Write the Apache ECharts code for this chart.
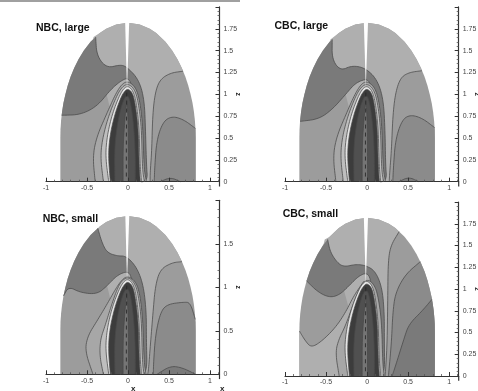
<!DOCTYPE html>
<html>
<head>
<meta charset="utf-8">
<style>
html,body{margin:0;padding:0;background:#fff;overflow:hidden}
#chart{width:478px;height:391px;filter:blur(0.5px)}
</style>
<script src="https://cdn.jsdelivr.net/npm/echarts@6/dist/echarts.min.js"></script>
</head>
<body>
<div id="chart"></div>
<script>
// ---------- values: x, z in axis units ----------
const panelTitles = ['NBC, large', 'CBC, large', 'NBC, small', 'CBC, small'];
const xTicksMajor = 0.5;
const zTickSteps = [0.25, 0.25, 0.5, 0.25];

// half-width of the dome at each height [z, |x|]
const domeProfile = [[0,.825],[.5,.825],[.6,.823],[.7,.816],[.8,.804],[.9,.787],[1,.763],[1.1,.735],[1.2,.70],[1.3,.656],[1.4,.603],[1.5,.538],[1.6,.456],[1.7,.344],[1.75,.265],[1.8,.143],[1.82,0]];

// contours shared by the inner wake
const whiteRing = [[-.235,0],[-.275,.29],[-.255,.52],[-.195,.766],[-.108,.98],[-.05,1.07],[0,1.095],[.055,1.05],[.095,.94],[.136,.63],[.146,.2],[.165,0]];
const coreEdge = [[-.215,0],[-.24,.29],[-.222,.52],[-.163,.766],[-.085,.97],[-.033,1.045],[0,1.06],[.045,1.03],[.08,.94],[.125,.63],[.135,.2],[.15,0]];
const coreStripe = [[-.16,0],[-.165,.4],[-.12,.72],[-.06,.93],[-.01,1.0],[.03,.92],[.07,.65],[.09,.3],[.09,0]];
const coreCentre = [[-.06,0],[-.06,.42],[-.035,.75],[-.015,.93],[.0,.75],[.005,.42],[.005,0]];
const coreDashes = [[-.015,1.02],[-.02,.5],[-.02,.03]];

// NBC, large
const p1Right = [[.69,1.264],[.52,1.245],[.39,1.17],[.33,1.015],[.30,.75],[.29,.36],[.27,.1],[.27,0]];
const p1Lower = [[.82,.61],[.68,.71],[.54,.75],[.43,.69],[.35,.48],[.325,.15],[.32,0]];
const p1Bump = [[.39,0],[.52,.05],[.64,0]];
const p1Dark = [[-.793,.76],[-.58,.766],[-.378,.862],[-.215,1.05],[-.093,1.15],[0,1.19],[.05,1.1],[.1,.6],[.1,0],[.24,0],[.225,.2],[.215,.55],[.2,.94],[.13,1.17],[-.01,1.31],[-.09,1.34],[-.26,1.30],[-.38,1.44],[-.42,1.655]];
const p1Band = [[-.40,0],[-.43,.29],[-.38,.52],[-.256,.785],[-.154,1],[-.073,1.12],[0,1.15],[.09,1.085],[.142,.94],[.182,.63],[.195,.15],[.225,0]];
const p1Light = [[-.30,0],[-.337,.29],[-.305,.52],[-.232,.766],[-.13,1],[-.065,1.09],[0,1.12],[.072,1.07],[.122,.94],[.165,.63],[.175,.15],[.20,0]];

// CBC, large
const p2Right = [[.683,1.27],[.51,1.25],[.407,1.19],[.345,1.015],[.313,.747],[.297,.364],[.275,.1],[.27,0]];
const p2Lower = [[.813,.62],[.67,.728],[.528,.766],[.427,.71],[.345,.48],[.32,.15],[.313,0]];
const p2Bump = [[.386,0],[.508,.054],[.63,0]];
const p2Dark = [[-.81,.69],[-.59,.716],[-.427,.824],[-.264,.996],[-.142,1.13],[0,1.18],[.05,1.1],[.1,.6],[.1,0],[.24,0],[.225,.2],[.22,.555],[.2,.94],[.122,1.17],[-.02,1.30],[-.183,1.33],[-.325,1.27],[-.427,1.40],[-.447,1.628]];
const p2Band = [[-.38,0],[-.415,.29],[-.37,.52],[-.25,.785],[-.15,1],[-.07,1.12],[0,1.15],[.09,1.085],[.142,.94],[.182,.63],[.195,.15],[.225,0]];
const p2Light = [[-.29,0],[-.325,.29],[-.30,.52],[-.23,.766],[-.13,1],[-.065,1.09],[0,1.12],[.072,1.07],[.122,.94],[.165,.63],[.175,.15],[.20,0]];

// NBC, small
const p3Right = [[.68,1.295],[.537,1.283],[.394,1.207],[.333,1.015],[.305,.709],[.272,.326],[.25,.05],[.24,0]];
const p3Lower = [[.82,.632],[.76,.824],[.68,.83],[.476,.805],[.394,.709],[.333,.44],[.31,.1],[.31,0]];
const p3Bump = [[.354,0],[.516,.096],[.66,.077],[.78,0]];
const p3Dark = [[-.793,.90],[-.724,1.008],[-.58,.939],[-.378,.92],[-.256,1.015],[-.134,1.138],[0,1.188],[.05,1.1],[.1,.6],[.1,0],[.235,0],[.224,.4],[.224,.709],[.19,1.015],[.11,1.226],[-.02,1.36],[-.134,1.36],[-.256,1.40],[-.317,1.513],[-.358,1.678]];
const p3Band = [[-.427,0],[-.524,.268],[-.492,.44],[-.378,.613],[-.256,.805],[-.154,.977],[-.073,1.09],[0,1.13],[.09,1.07],[.142,.94],[.182,.63],[.195,.15],[.22,0]];
const p3Light = [[-.30,0],[-.345,.21],[-.337,.40],[-.28,.556],[-.21,.77],[-.125,1],[-.065,1.085],[0,1.115],[.072,1.065],[.122,.94],[.165,.63],[.175,.15],[.195,0]];

// CBC, small
const p4RightA = [[.386,1.659],[.285,1.494],[.256,1.303],[.252,.92],[.244,.345],[.22,0]];
const p4RightB = [[.65,1.314],[.467,1.169],[.346,.958],[.313,.728],[.297,.383],[.26,0]];
const p4RightC = [[.78,.881],[.67,.747],[.508,.594],[.447,.421],[.346,.115],[.305,0]];
const p4Pocket = [[-.82,.517],[-.752,.402],[-.679,.326],[-.549,.402],[-.386,.556],[-.264,.728],[-.163,.92],[-.04,1.09]];
const p4Dark = [[-.74,1.092],[-.59,.958],[-.447,.90],[-.325,.939],[-.203,1.054],[-.10,1.15],[0,1.188],[.05,1.1],[.1,.6],[.1,0],[.215,0],[.21,.4],[.21,.728],[.183,1.015],[.10,1.207],[-.02,1.272],[-.142,1.284],[-.264,1.257],[-.346,1.284],[-.447,1.418],[-.516,1.57]];
const p4Band = [[-.34,0],[-.386,.268],[-.346,.42],[-.264,.575],[-.163,.843],[-.08,1.034],[0,1.115],[.08,1.06],[.13,.94],[.178,.63],[.19,.15],[.21,0]];

// white wake gap [topLeft, topRight, apex]
const p1Gap = [[-.035,1.84],[.015,1.84],[-.012,1.05]];
const p2Gap = [[-.04,1.84],[.012,1.84],[-.016,1.08]];
const p3Gap = [[-.033,1.84],[.016,1.84],[-.012,1.07]];
const p4Gap = [[-.04,1.84],[.012,1.84],[-.016,1.05]];

// ---------- styling ----------
const shades = ['#afafaf','#9c9c9c','#8b8b8b','#7a7a7a','#a7a7a7','#bebebe','#e4e4e4','#3c3c3c','#505050','#757575','#ffffff','#7c7c7c'];
const lineColor = '#484848';
const XMAX = 1.116;
const layout = [
  {left:46,  top:6.9,   width:173.5, height:174.8, titleLeft:36,  titleTop:23},
  {left:285, top:6.9,   width:173.7, height:174.8, titleLeft:274.5,titleTop:21},
  {left:46,  top:200.3, width:173.5, height:174,   titleLeft:42.7,titleTop:213.5},
  {left:285, top:202,   width:173.7, height:174,   titleLeft:282.7,titleTop:209}
];

function domeX(z) {
  for (let i = 0; i < domeProfile.length - 1; i++) {
    const a = domeProfile[i], b = domeProfile[i+1];
    if (z >= a[0] && z <= b[0]) return a[1] + (b[1]-a[1]) * (z-a[0]) / (b[0]-a[0]);
  }
  return 0;
}
function snap(p) {
  const d = domeX(p[1]);
  return (Math.abs(p[0]) > .3 && Math.abs(Math.abs(p[0]) - d) < .06) ? [Math.sign(p[0]) * d, p[1]] : p;
}
function arc(side, from, to) {
  const up = from < to, lo = Math.min(from, to), hi = Math.max(from, to);
  const pts = domeProfile.filter(p => p[0] >= lo && p[0] <= hi).map(p => [side * p[1], p[0]]);
  return up ? pts : pts.reverse();
}
function chaikin(line, n) {
  let p = line.slice();
  p[0] = snap(p[0]);
  p[p.length-1] = snap(p[p.length-1]);
  for (let k = 0; k < n; k++) {
    const q = [p[0]];
    for (let i = 0; i < p.length - 1; i++) {
      q.push([.75*p[i][0]+.25*p[i+1][0], .75*p[i][1]+.25*p[i+1][1]]);
      q.push([.25*p[i][0]+.75*p[i+1][0], .25*p[i][1]+.75*p[i+1][1]]);
    }
    q.push(p[p.length-1]);
    p = q;
  }
  return p;
}
const dome = () => ({level:1, fill:arc(-1,0,1.82).concat(arc(1,1.82,0))});
function core(light, band) {
  const list = [];
  if (band) list.push({level:4, line:band});
  if (light) list.push({level:5, line:light});
  list.push({level:6, line:whiteRing});
  list.push({level:7, line:coreEdge});
  list.push({level:8, line:coreStripe});
  list.push({level:9, line:coreCentre});
  list.push({dash:coreDashes});
  return list;
}
const tail = {plain:[[XMAX,0],[XMAX,-0.055]]};
const gap = g => ({level:10, fill:g});

const panelLayers = [
  [dome(),
   {level:2, line:p1Lower, close:arc(1,0,.61)},
   {level:11, line:p1Bump},
   {level:0, line:p1Right, close:[[0,0],[-.3,1.15],[-.5,1.3],[-.42,1.655]].concat(arc(-1,1.7,1.82),arc(1,1.82,1.264))},
   {level:3, line:p1Dark, close:arc(-1,1.6,.8)},
   ...core(p1Light,p1Band), gap(p1Gap), tail],
  [dome(),
   {level:2, line:p2Lower, close:arc(1,0,.6)},
   {level:11, line:p2Bump},
   {level:0, line:p2Right, close:[[0,0],[-.3,1.15],[-.5,1.3],[-.447,1.628]].concat(arc(-1,1.7,1.82),arc(1,1.82,1.3))},
   {level:3, line:p2Dark, close:arc(-1,1.6,.7)},
   ...core(p2Light,p2Band), gap(p2Gap), tail],
  [dome(),
   {level:2, line:p3Lower, close:arc(1,0,.6)},
   {level:3, line:p3Bump},
   {level:0, line:p3Right, close:[[0,0],[-.3,1.2],[-.45,1.3],[-.358,1.678]].concat(arc(-1,1.7,1.82),arc(1,1.82,1.3))},
   {level:3, line:p3Dark, close:arc(-1,1.6,.9)},
   ...core(p3Light,p3Band), gap(p3Gap), tail],
  [dome(),
   {level:0, line:p4RightA, close:[[0,0],[-.3,1.05],[-.6,1.25],[-.516,1.57]].concat(arc(-1,1.6,1.82),arc(1,1.82,1.7))},
   {level:2, line:p4RightB, close:arc(1,0,1.3)},
   {level:3, line:p4RightC, close:arc(1,0,.9)},
   {level:0, line:p4Pocket, close:[[-.2,0]].concat(arc(-1,0,.5))},
   {level:3, line:p4Dark, close:arc(-1,1.5,1.1)},
   ...core(null,p4Band), gap(p4Gap), tail]
];

function renderLayer(layers) {
  return function (params, api) {
    const l = layers[api.value(0)];
    const toPx = pts => pts.map(p => api.coord(p));
    const children = [];
    if (l.fill) {
      children.push({type:'polygon', shape:{points:toPx(l.fill)}, style:{fill:shades[l.level]}, silent:true});
    }
    if (l.line) {
      const smooth = chaikin(l.line, 3);
      children.push({type:'polygon', shape:{points:toPx(smooth.concat(l.close || []))}, style:{fill:shades[l.level]}, silent:true});
      children.push({type:'polyline', shape:{points:toPx(smooth)}, style:{fill:null, stroke:lineColor, lineWidth:0.75}, silent:true});
    }
    if (l.dash) {
      children.push({type:'polyline', shape:{points:toPx(l.dash)}, style:{fill:null, stroke:'#222', lineWidth:0.8, lineDash:[4,4]}, silent:true});
    }
    if (l.plain) {
      children.push({type:'polyline', shape:{points:toPx(l.plain)}, style:{fill:null, stroke:'#333', lineWidth:1.2}, silent:true});
    }
    return {type:'group', children};
  };
}

const axisText = {fontFamily:'Liberation Sans', fontSize:7, color:'#444'};
const option = {
  animation:false,
  backgroundColor:'#fff',
  grid: layout.map(g => ({left:g.left, top:g.top, width:g.width, height:g.height, containLabel:false, outerBoundsMode:'none'})),
  title: panelTitles.map((t,i) => ({
    text:t, left:layout[i].titleLeft, top:layout[i].titleTop, padding:0,
    textStyle:{fontFamily:'Liberation Sans', fontWeight:'bold', fontSize:10.5, color:'#111'}
  })).concat([
    {text:'x', left:131, top:385, padding:0, textStyle:{fontFamily:'Liberation Sans', fontWeight:'bold', fontSize:8, color:'#222'}},
    {text:'x', left:220, top:385, padding:0, textStyle:{fontFamily:'Liberation Sans', fontWeight:'bold', fontSize:8, color:'#222'}}
  ]),
  xAxis: layout.map((g,i) => ({
    gridIndex:i, type:'value', min:-1, max:XMAX, interval:xTicksMajor, z:10,
    position:'bottom', splitLine:{show:false},
    axisLine:{show:true, onZero:true, lineStyle:{color:'#333', width:1.2}},
    axisTick:{show:true, inside:true, length:4, lineStyle:{color:'#333', width:1}},
    minorTick:{show:true, splitNumber:5, length:2, lineStyle:{color:'#555', width:.8}},
    axisLabel:Object.assign({margin:3, showMaxLabel:false, hideOverlap:false}, axisText)
  })),
  yAxis: layout.map((g,i) => ({
    gridIndex:i, type:'value', min:0, max:2, interval:zTickSteps[i], z:10,
    position:'right', splitLine:{show:false},
    axisLine:{show:true, onZero:false, lineStyle:{color:'#333', width:1.2}},
    axisTick:{show:true, inside:true, length:4, lineStyle:{color:'#333', width:1}},
    minorTick:{show:true, splitNumber:5, length:2, lineStyle:{color:'#555', width:.8}},
    axisLabel:Object.assign({margin:4, showMaxLabel:false}, axisText),
    name:'z', nameLocation:'middle', nameGap:15, nameRotate:-90, nameMoveOverlap:false,
    nameTextStyle:{fontFamily:'Liberation Sans', fontWeight:'bold', fontSize:7, color:'#222'}
  })),
  series: panelLayers.map((layers,i) => ({
    type:'custom', coordinateSystem:'cartesian2d', xAxisIndex:i, yAxisIndex:i, z:2, silent:true, clip:false,
    renderItem:renderLayer(layers),
    data:layers.map((_,k) => [k])
  })),
  graphic:[{type:'rect', left:0, top:0, shape:{width:240, height:2}, style:{fill:'#a0a0a0'}, silent:true}]
};
const chart = echarts.init(document.getElementById('chart'), null, {renderer:'canvas'});
chart.setOption(option);
</script>
</body>
</html>
